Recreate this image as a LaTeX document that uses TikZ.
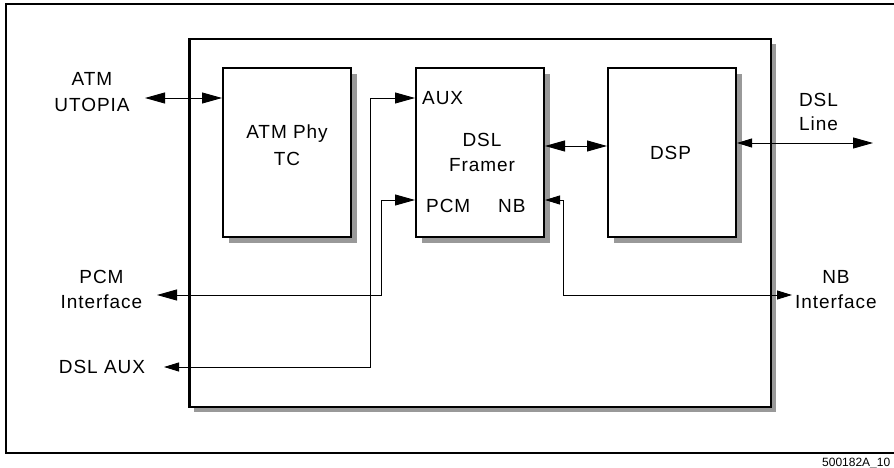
\documentclass[tikz,border=0pt]{standalone}
\usepackage{fontspec}
\setmainfont{Liberation Sans}
\newfontfamily\lblfont[LetterSpace=5]{Liberation Sans}
\usetikzlibrary{arrows.meta,shadows}
\definecolor{shgray}{RGB}{153,153,153}
\begin{document}
\begin{tikzpicture}[x=1pt,y=-1pt,
  lbl/.style={font={\lblfont\fontsize{19}{23}\selectfont},inner sep=0pt,anchor=base},
  foot/.style={font={\fontsize{12}{14}\selectfont},inner sep=0pt,anchor=base west},
  blk/.style={draw,line width=1.8pt,fill=white,minimum width=128.2pt,minimum height=169.2pt,inner sep=0pt,
    drop shadow={shadow xshift=6pt,shadow yshift=-6pt,fill=shgray,opacity=1}},
  chipbox/.style={draw,line width=2.5pt,fill=white,minimum width=581.5pt,minimum height=367.5pt,inner sep=0pt,
    drop shadow={shadow xshift=5pt,shadow yshift=-5pt,fill=shgray,opacity=1}},
  conn/.style={line width=0.9pt},
  bb/.style={conn,arrows={Triangle[length=20pt,width=11pt]-Triangle[length=20pt,width=11pt]}},
  sb/.style={conn,arrows={Triangle[length=15pt,width=9pt]-Triangle[length=20pt,width=11pt]}},
  ss/.style={conn,arrows={Triangle[length=15pt,width=9pt]-Triangle[length=15pt,width=9pt]}},
]
\clip (0,0) rectangle (894,468);
\fill[white] (0,0) rectangle (894,468);
% outer frame
\draw[line width=1.3pt] (6,4) rectangle (910,453);
% chip
\node[chipbox] (chip) at (480,223) {};
% blocks
\node[blk] (atm) at (287,152.5) {};
\node[blk] (framer) at (480,152.5) {};
\node[blk] (dsp) at (672,152.5) {};
% block texts
\node[lbl] (atmt1) at (287,139) {ATM Phy};
\node[lbl] (atmt2) at (287,165) {TC};
\node[lbl] (frt1) at (482,146.7) {DSL};
\node[lbl] (frt2) at (482,171.7) {Framer};
\node[lbl,anchor=base west] (auxl) at (422,105) {AUX};
\node[lbl,anchor=base west] (pcml) at (426,212.7) {PCM};
\node[lbl,anchor=base west] (nbl) at (498,212.7) {NB};
\node[lbl] (dspt) at (670.5,159) {DSP};
% outside labels
\node[lbl] (utop1) at (92,86) {ATM};
\node[lbl] (utop2) at (92,111.5) {UTOPIA};
\node[lbl] (pcmi1) at (101.5,283) {PCM};
\node[lbl] (pcmi2) at (101.5,308) {Interface};
\node[lbl] (dslaux) at (102,373) {DSL AUX};
\node[lbl] (nbi1) at (836,283) {NB};
\node[lbl] (nbi2) at (836,308) {Interface};
\node[lbl] (line1) at (818.5,107) {DSL};
\node[lbl] (line2) at (818.5,131) {Line};
\node[foot] (code) at (822,466) {500182A\_10};
% connectors
\coordinate (utopiaend) at (145,98);
\draw[bb] (utopiaend) -- (utopiaend -| atm.west);
\coordinate (auxend) at (164,367);
\coordinate (auxbend) at (370,98);
\draw[sb] (auxend) -| (auxbend) -- (auxbend -| framer.west);
\coordinate (pcmend) at (157,295);
\coordinate (pcmbend) at (381,200);
\draw[bb] (pcmend) -| (pcmbend) -- (pcmbend -| framer.west);
\coordinate (nbend) at (792,295);
\coordinate (nbbend) at (563,200);
\draw[ss] (nbend) -| (nbbend) -- (nbbend -| framer.east);
\coordinate (fdmid) at (576,146);
\draw[bb] (fdmid -| framer.east) -- (fdmid -| dsp.west);
\coordinate (lineend) at (873,143);
\draw[sb] (lineend -| dsp.east) -- (lineend);
\end{tikzpicture}
\end{document}
